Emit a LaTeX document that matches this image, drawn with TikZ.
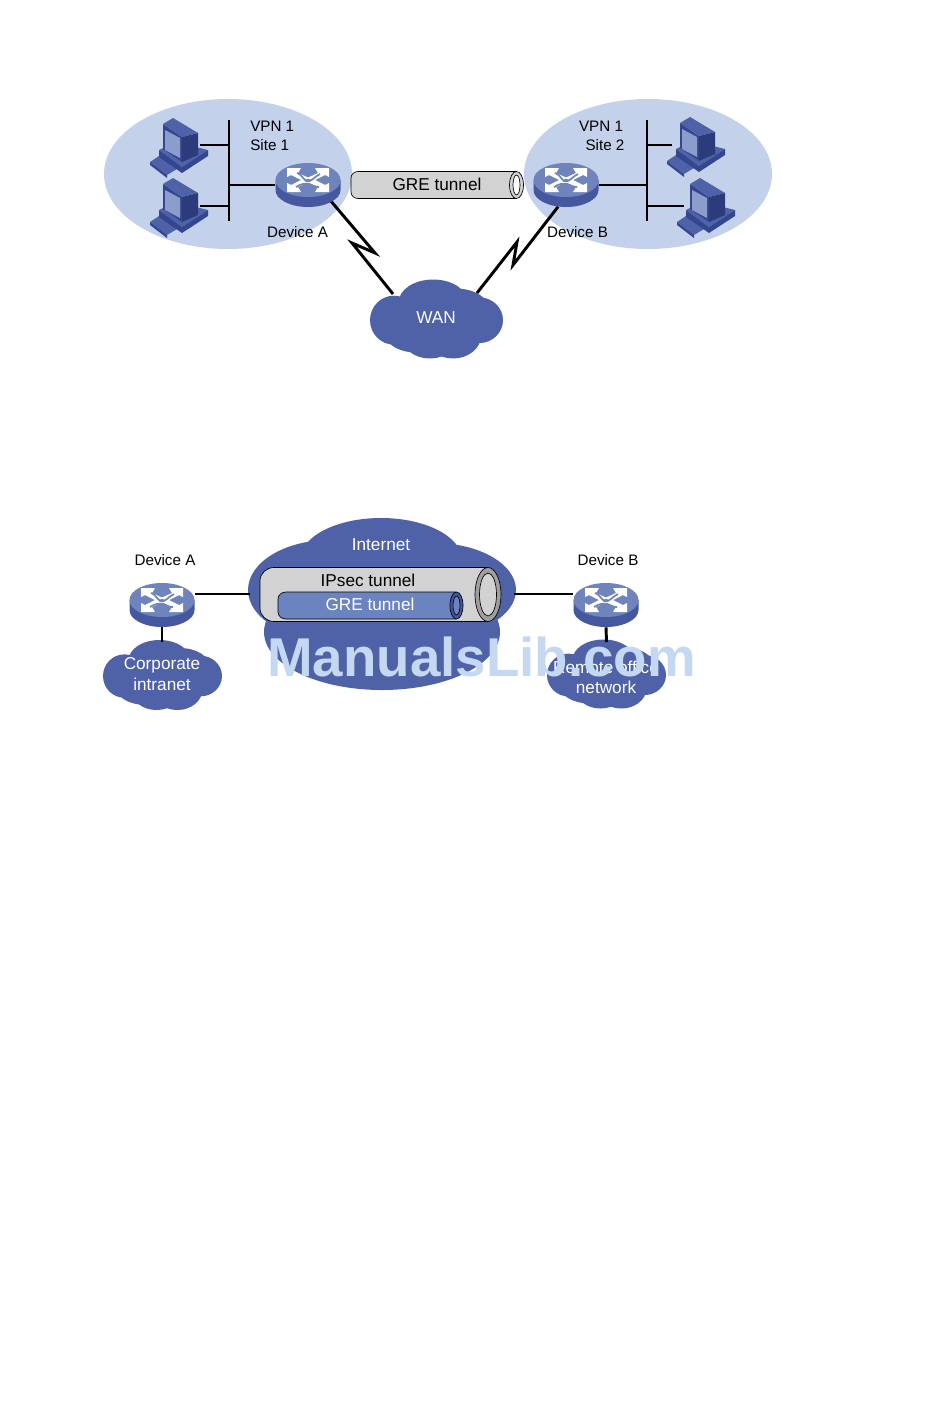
\documentclass[tikz,border=0pt]{standalone}
\usepackage{fontspec}
\setmainfont{Liberation Sans}
\usepackage{tikz}
\usetikzlibrary{positioning, calc, shapes.geometric}

\definecolor{sitefill}{HTML}{C3D1EA}
\definecolor{cloudfill}{HTML}{4F62A8}
\definecolor{routertop}{HTML}{6F84BC}
\definecolor{routerside}{HTML}{45589F}
\definecolor{tubegray}{HTML}{D2D2D2}
\definecolor{tubeblue}{HTML}{6B84C0}
\definecolor{pcdark}{HTML}{34468F}
\definecolor{pcmid}{HTML}{4F62A8}
\definecolor{pcscreen}{HTML}{8C9CCB}
\definecolor{markblue}{HTML}{C5D8F2}

\tikzset{
    lbl/.style={font=\fontsize{11.4}{13.5}\selectfont, align=center, inner sep=0pt},
    biglbl/.style={font=\fontsize{12.9}{15.2}\selectfont, align=center, inner sep=0pt},
    wlbl/.style={biglbl, text=white},
    wire/.style={line width=2.2pt, black},
    routernode/.style={ellipse, minimum width=48.75pt, minimum height=33pt, inner sep=0pt},
    pics/router/.style={code={
        \fill[routerside] (-32.5,-5) -- (-32.5,5) arc[x radius=32.5, y radius=17, start angle=180, end angle=0] -- (32.5,-5) -- cycle;
        \fill[routertop] (0,-5) ellipse[x radius=32.5, y radius=17];
        % four arrows
        \foreach \sx/\sy in {1/1,-1/1,1/-1,-1/-1}{
            \begin{scope}[shift={(0,-5)}, xscale=\sx, yscale=\sy]
                \fill[white] (21,12) -- (21,3) -- (17,5) -- (5,-1) -- (-1,2) -- (10,7) -- (7,12) -- cycle;
            \end{scope}
        }
        \draw[routertop, line width=1.3pt] (-11,-12) .. controls (-4,-9) and (-6,-6) .. (-2,-4) .. controls (3,-2) and (7,-9) .. (12,-11);
        \draw[routertop, line width=1.3pt] (-12,2) .. controls (-7,-1) and (-3,-2) .. (1,-1) .. controls (5,0) and (6,2) .. (11,2);
    }},
    pics/pc/.style={code={
        \fill[pcmid] (-30,15) -- (-18,7) -- (-3,22) -- (-13,28) -- cycle;
        \fill[pcdark] (-30,15) -- (-13,28) -- (-13,31) -- (-30,18) -- cycle;
        \fill[pcmid] (-21,3) -- (-5,-5) -- (28,3) -- (2,20) -- cycle;
        \fill[pcdark] (-21,3) -- (2,20) -- (28,3) -- (28,9) -- (2,26) -- (-21,10) -- cycle;
        \fill[pcdark] (-17,-23) -- (2,-10) -- (2,15) -- (-17,2) -- cycle;
        \fill[pcmid] (-17,-23) -- (-7,-29) -- (18,-14) -- (2,-10) -- cycle;
        \fill[pcdark!85!black] (2,-10) -- (18,-14) -- (18,8) -- (2,15) -- cycle;
        \fill[pcscreen] (-15,-17) -- (0,-9) -- (0,11) -- (-15,3) -- cycle;
    }},
    pics/cloud/.style={code={
        \fill[cloudfill] (-0.64,0.03) ellipse[x radius=0.36, y radius=0.62]
            (0.64,0.03) ellipse[x radius=0.36, y radius=0.58]
            (-0.05,-0.42) ellipse[x radius=0.52, y radius=0.58]
            (0.3,-0.22) ellipse[x radius=0.5, y radius=0.55]
            (-0.3,0.3) ellipse[x radius=0.5, y radius=0.55]
            (0.25,0.42) ellipse[x radius=0.42, y radius=0.58]
            (-0.1,0.45) ellipse[x radius=0.42, y radius=0.55];
    }},
}

\begin{document}
\begin{tikzpicture}[x=0.75pt, y=-0.75pt]
    \useasboundingbox (0,0) rectangle (950,1420);

    % upper figure
    \fill[sitefill] (228,174) ellipse[x radius=124, y radius=75];
    \fill[sitefill] (648,174) ellipse[x radius=124, y radius=75];

    \begin{scope}[shift={(436.5,319)}, xscale=66.5, yscale=39.5]
        \pic[transform shape] {cloud};
    \end{scope}
    \node[wlbl] (wan) at (436,318) {WAN};

    \node[lbl, anchor=west] (vpna) at (250,126.5) {VPN 1};
    \node[lbl, anchor=west] (sitea) at (250,145) {Site 1};
    \node[lbl] (vpnb) at (601,126.5) {VPN 1};
    \node[lbl] (siteb) at (605,145) {Site 2};

    \coordinate (busa1) at (229,120);
    \coordinate (busa2) at (229,221);
    \coordinate (busb1) at (647,120);
    \coordinate (busb2) at (647,221);
    \draw[wire] (busa1) -- (busa2);
    \draw[wire] (busb1) -- (busb2);

    \node[routernode] (deva) at (308,185) {};
    \node[routernode] (devb) at (566,185) {};
    \coordinate (pa1) at (200,145);
    \coordinate (pa2) at (200,206);
    \coordinate (pb1) at (672,145);
    \coordinate (pb2) at (684,206);
    \draw[wire] (pa1) -- (pa1 -| busa1);
    \draw[wire] (pa2) -- (pa2 -| busa1);
    \draw[wire] (pb1) -- (pb1 -| busb1);
    \draw[wire] (pb2) -- (pb2 -| busb1);
    \draw[wire] (deva.west) -- (deva.west -| busa1);
    \draw[wire] (devb.east) -- (devb.east -| busb1);

    % serial links
    \coordinate (zaa) at (375,253);
    \coordinate (zab) at (352,243);
    \coordinate (zac) at (393,294);
    \coordinate (zba) at (513,265);
    \coordinate (zbb) at (517,242);
    \coordinate (zbc) at (477,293);
    \draw[wire, line join=miter] (deva.-35) -- (zaa) -- (zab) -- (zac);
    \draw[wire, line join=miter] (devb.-110) -- (zba) -- (zbb) -- (zbc);

    \pic at (deva) {router};
    \pic at (devb) {router};

    \pic at (180,147) {pc};
    \pic at (180,207) {pc};
    \pic at (697,146) {pc};
    \pic at (707,207) {pc};

    \node[lbl] (lbla) at (297.5,232.5) {Device A};
    \node[lbl] (lblb) at (577.5,232.5) {Device B};

    % tunnel
    \draw[black, fill=tubegray, line width=0.5pt] (516,171.5) -- (358,171.5) to[out=180,in=90] (351,178) -- (351,192) to[out=-90,in=180] (358,198.5) -- (516,198.5);
    \draw[black, fill=tubegray, line width=0.5pt] (516.5,185) ellipse[x radius=7, y radius=13.5];
    \draw[black, fill=white, line width=0.5pt] (516.5,185) ellipse[x radius=3.5, y radius=10];
    \node[biglbl] (gre) at (437,184) {GRE tunnel};

    % lower figure
    \fill[cloudfill] (381,560) ellipse[x radius=81, y radius=42]
        (330,590) ellipse[x radius=82, y radius=50]
        (434,590) ellipse[x radius=82, y radius=47]
        (382,632) ellipse[x radius=118, y radius=58];
    \begin{scope}[shift={(162.5,675)}, xscale=59.5, yscale=35]
        \pic[transform shape] {cloud};
    \end{scope}
    \begin{scope}[shift={(606.5,674)}, xscale=59.5, yscale=34.5]
        \pic[transform shape] {cloud};
    \end{scope}

    \node[routernode] (devc) at (162,605) {};
    \node[routernode] (devd) at (606,605) {};
    \coordinate (inl) at (250,594);
    \coordinate (inr) at (514,594);
    \coordinate (cortop) at (162,642);
    \coordinate (remtop) at (606.5,642);
    \draw[wire] (inl) -- (inl -| devc.east);
    \draw[wire] (inr) -- (inr -| devd.west);
    \draw[wire] (devc.south) -- (cortop);
    \draw[wire] (devd.south) -- (remtop);
    \pic at (devc) {router};
    \pic at (devd) {router};

    \node[wlbl] (inet) at (381,545) {Internet};

    \draw[black, fill=tubegray, line width=0.5pt] (488,567.5) -- (274,567.5) to[out=180,in=90] (260,581) -- (260,608) to[out=-90,in=180] (274,621.5) -- (488,621.5);
    \draw[black, fill=gray!75, line width=0.5pt] (488,594.5) ellipse[x radius=13, y radius=27];
    \draw[black, fill=tubegray, line width=0.5pt] (488,594.5) ellipse[x radius=8.5, y radius=21.5];
    \draw[black, fill=tubeblue, line width=0.5pt] (456,592) -- (286,592) to[out=180,in=90] (278,599) -- (278,612) to[out=-90,in=180] (286,619) -- (456,619);
    \draw[black, fill=routerside, line width=0.5pt] (456.5,605.5) ellipse[x radius=6.5, y radius=13.5];
    \draw[black, fill=tubeblue, line width=0.5pt] (456.5,605.5) ellipse[x radius=3.5, y radius=9.5];
    \node[biglbl] (ipsec) at (368,580.5) {IPsec tunnel};
    \node[wlbl] (gree) at (370,604.5) {GRE tunnel};

    \node[lbl] (lblc) at (165,560) {Device A};
    \node[lbl] (lbld) at (608,560) {Device B};
    \node[wlbl] (corp) at (162,674) {Corporate\\intranet};
    \node[wlbl] (remote) at (606,677) {Remote office\\network};

    \node[text=markblue, font=\fontsize{41}{41}\selectfont\bfseries, inner sep=0pt] (mark) at (481.5,657) {ManualsLib.com};
\end{tikzpicture}
\end{document}
